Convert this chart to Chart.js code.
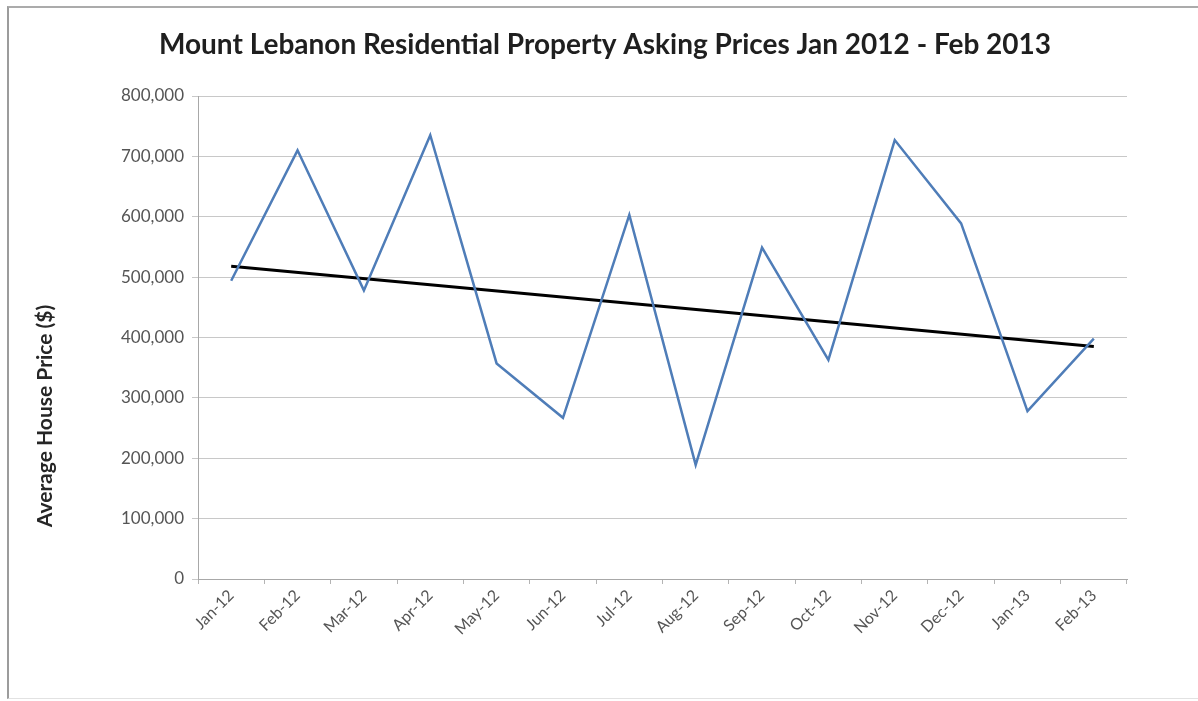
<!DOCTYPE html>
<html>
<head>
<meta charset="utf-8">
<script src="https://cdn.jsdelivr.net/npm/chart.js@4/dist/chart.umd.min.js"></script>
<style>
    html, body { margin: 0; padding: 0; background: #fff; }
    body { width: 1198px; height: 701px; position: relative; overflow: hidden; }
    #frame {
        position: absolute; left: 7px; top: 6px; width: 1191px; height: 690px;
        border-left: 2px solid #9c9c9c; border-top: 2px solid #ababab; border-bottom: 1px solid #e2e2e2;
    }
    #wrap { position: absolute; left: 0; top: 0; width: 1198px; height: 701px; }
</style>
</head>
<body>
<div id="frame"></div>
<div id="wrap"><canvas id="priceChart"></canvas></div>
<script>
// Data
const months = ['Jan-12', 'Feb-12', 'Mar-12', 'Apr-12', 'May-12', 'Jun-12', 'Jul-12',
    'Aug-12', 'Sep-12', 'Oct-12', 'Nov-12', 'Dec-12', 'Jan-13', 'Feb-13'];
const avgPrices = [494000, 710000, 478000, 735000, 357000, 267000, 603000,
    189000, 549000, 363000, 727000, 589000, 278000, 398000];
// linear trend line: value at first and last month
const trendEnds = [518000, 385000];
const yTicks = [0, 100000, 200000, 300000, 400000, 500000, 600000, 700000, 800000];

const chartTitle = 'Mount Lebanon Residential Property Asking Prices Jan 2012 - Feb 2013';
const yAxisTitle = 'Average House Price ($)';

const fontFamily = "Lato, 'Open Sans', sans-serif";

// trend only has its two ends, the gap is spanned by the line
const trendData = months.map((m, i) => {
    if (i === 0) return trendEnds[0];
    if (i === months.length - 1) return trendEnds[1];
    return null;
});

// Excel-style titles: chart title centred on the page, y title centred lower than the plot
const titlesPlugin = {
    id: 'excelTitles',
    afterDraw(chart) {
        const ctx = chart.ctx;
        ctx.save();
        ctx.fillStyle = '#1f1f1f';
        ctx.textAlign = 'center';
        ctx.textBaseline = 'middle';
        ctx.font = 'bold 28px ' + fontFamily;
        ctx.fillText(chartTitle, 605, 45);

        ctx.translate(45, 416);
        ctx.rotate(-Math.PI / 2);
        ctx.font = 'bold 21px ' + fontFamily;
        ctx.fillStyle = '#262626';
        ctx.fillText(yAxisTitle, 0, 0);
        ctx.restore();
    }
};

const ctx = document.getElementById('priceChart').getContext('2d');

new Chart(ctx, {
    type: 'line',
    data: {
        labels: months,
        datasets: [{
            label: 'Average price',
            data: avgPrices,
            borderColor: '#4f7db8',
            borderWidth: 2.5,
            tension: 0,
            pointRadius: 0,
            fill: false
        }, {
            label: 'Trend',
            data: trendData,
            borderColor: '#000000',
            borderWidth: 3,
            tension: 0,
            pointRadius: 0,
            spanGaps: true,
            fill: false
        }]
    },
    options: {
        responsive: true,
        maintainAspectRatio: false,
        animation: false,
        layout: {
            padding: { left: 10, right: 71, top: 96, bottom: 0 }
        },
        plugins: {
            legend: { display: false },
            tooltip: { enabled: false },
            title: { display: false }
        },
        scales: {
            x: {
                offset: true,
                grid: {
                    offset: true,
                    drawOnChartArea: false,
                    drawTicks: true,
                    tickLength: 5,
                    color: '#b4b4b4'
                },
                border: { color: '#a8a8a8' },
                ticks: {
                    color: '#555555',
                    font: { family: fontFamily, size: 16 },
                    maxRotation: 45,
                    minRotation: 45,
                    autoSkip: false,
                    padding: 2
                },
                afterFit(scale) { scale.height = 122; }
            },
            y: {
                min: 0,
                max: 800000,
                afterBuildTicks(scale) {
                    scale.ticks = yTicks.map(v => ({ value: v }));
                },
                grid: {
                    color: '#c8c8c8',
                    tickLength: 6,
                    lineWidth: 1
                },
                border: { color: '#a8a8a8' },
                ticks: {
                    color: '#555555',
                    font: { family: fontFamily, size: 17 },
                    padding: 8,
                    callback: value => value.toLocaleString('en-US')
                },
                afterFit(scale) { scale.width = 188; }
            }
        }
    },
    plugins: [titlesPlugin]
});
</script>
</body>
</html>
